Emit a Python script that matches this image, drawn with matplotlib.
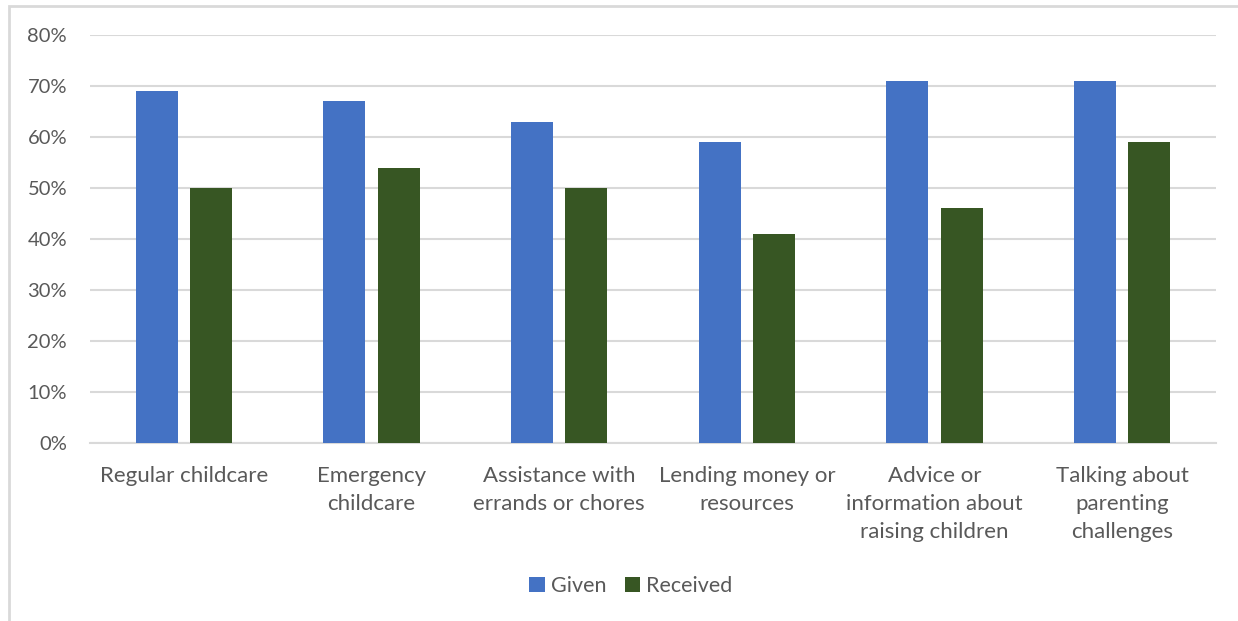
import numpy as np
from matplotlib import pyplot as plt
from matplotlib.patches import Rectangle

categories = ['Regular childcare', 'Emergency\nchildcare', 'Assistance with\nerrands or chores',
              'Lending money or\nresources', 'Advice or\ninformation about\nraising children',
              'Talking about\nparenting\nchallenges']
given = [69, 67, 63, 59, 71, 71]
received = [50, 54, 50, 41, 46, 59]
yticks = [0, 10, 20, 30, 40, 50, 60, 70, 80]

blue = '#4472C4'
green = '#375623'
text_color = '#595959'
grid_color = '#D9D9D9'

plt.rcParams['font.family'] = ['Lato', 'DejaVu Sans']

W, H = 1238, 621
fig = plt.figure(figsize=(W / 100, H / 100), dpi=100)
ax = fig.add_axes([90 / W, 1 - 443 / H, (1216 - 90) / W, (443 - 35) / H])

# chart frame (only left and top edges visible)
fig.patches.append(Rectangle((8.5 / W, -0.1), 2, 1 - 5.5 / H + 0.1, transform=fig.transFigure,
                             fill=False, ec=grid_color, lw=2))

x = np.arange(len(categories))
w = 0.224
off = 0.144
ax.bar(x - off, given, w, color=blue, label='Given', zorder=3)
ax.bar(x + off, received, w, color=green, label='Received', zorder=3)

ax.set_xlim(-0.5, len(categories) - 0.5)
ax.set_ylim(0, 80)
ax.set_yticks(yticks)
ax.set_yticklabels([f'{v}%' for v in yticks])
ax.yaxis.grid(True, color=grid_color, lw=1.5, zorder=0)
for s in ['top', 'right', 'left']:
    ax.spines[s].set_visible(False)
ax.spines['bottom'].set_color(grid_color)
ax.spines['bottom'].set_linewidth(1.5)
ax.tick_params(axis='y', length=0, pad=16.5, labelsize=14.5, labelcolor=text_color)
ax.tick_params(axis='x', length=0, pad=16.5, labelsize=16, labelcolor=text_color)
ax.set_xticks(x)
ax.set_xticklabels(categories, linespacing=1.5, va='top')

ax.legend(loc='center', bbox_to_anchor=(631 / W, 1 - 586 / H), bbox_transform=fig.transFigure,
          ncol=2, frameon=False, fontsize=15.5, labelcolor=text_color, handlelength=0.7,
          handleheight=0.7, handletextpad=0.3, columnspacing=0.85)

fig.savefig('out.png', dpi=100)
